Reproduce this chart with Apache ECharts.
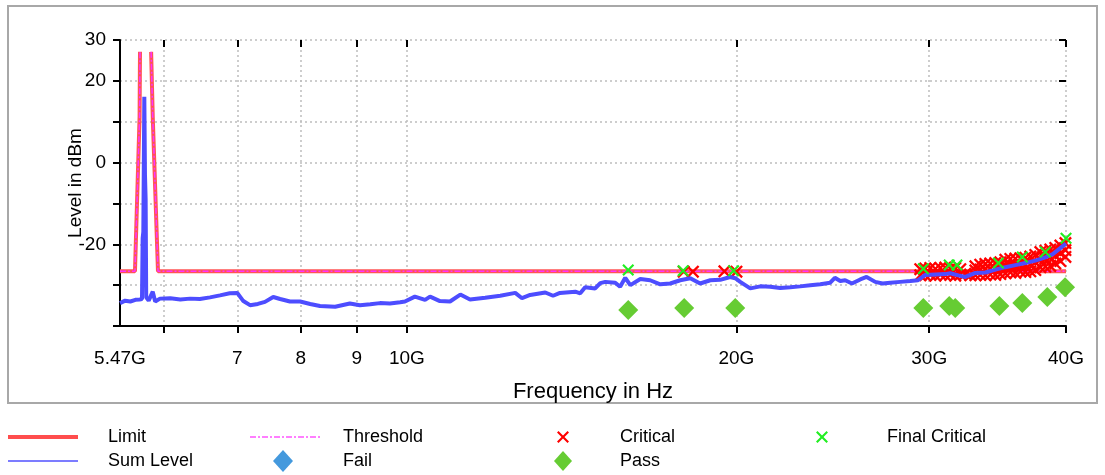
<!DOCTYPE html>
<html>
<head>
<meta charset="utf-8">
<title>Level vs Frequency</title>
<script src="https://cdn.jsdelivr.net/npm/echarts@6.0.0/dist/echarts.min.js"></script>
<style>
  html, body { margin: 0; padding: 0; background: #fff; }
  #chart { width: 1105px; height: 475px; }
</style>
</head>
<body>
<div id="chart"></div>
<script>
// frequencies in GHz, levels in dBm
var limitFreq = [5.47, 5.645, 5.70, 5.705, 5.77, 5.84, 5.86, 5.925, 40];
var limitLevel = [-26.6, -26.6, 11.2, 27.1, '-', 27.1, 11.2, -26.6, -26.6];
var thresholdLevel = [-26.6, -26.6, 11.2, 27.1, '-', 27.1, 11.2, -26.6, -26.6];

var sumFreq = [
  5.47, 5.53, 5.59, 5.65, 5.70, 5.729, 5.737, 5.745, 5.757, 5.765, 5.773, 5.78,
  5.81, 5.86, 5.89, 5.95, 6.08, 6.21, 6.34, 6.47, 6.61, 6.75, 6.89, 7.0,
  7.09, 7.19, 7.31, 7.42, 7.55, 7.66, 7.82, 7.99, 8.16, 8.33, 8.60, 8.87,
  9.06, 9.26, 9.45, 9.65, 9.86, 9.96, 10.17, 10.39, 10.5, 10.72, 10.95, 11.19,
  11.42, 11.79, 12.17, 12.56, 12.74, 12.96, 13.38, 13.6, 13.8, 14.25, 14.4, 14.55,
  14.86, 15.02, 15.18, 15.5, 15.66, 15.83, 16.0, 16.34, 16.68, 17.04, 17.4, 17.77,
  18.15, 18.53, 18.93, 19.33, 19.74, 19.95, 20.16, 20.59, 21.03, 21.47, 21.93, 22.4,
  22.87, 23.36, 23.86, 24.36, 24.6, 24.88, 25.14, 25.5, 25.95, 26.3, 26.78, 27.2,
  27.64, 28.23, 28.83, 29.3, 29.75, 30.39, 31.03, 31.36, 31.9, 32.37, 33.06, 33.76,
  34.48, 35.21, 35.96, 36.72, 37.5, 38.3, 38.9, 39.5, 40.0
];
var sumLevel = [
  -34.4, -33.8, -34.0, -33.6, -33.5, -33.4, -18.5, -17.0, 16.1, -3.0, -9.0, -33.0,
  -33.8, -31.6, -34.0, -33.3, -33.2, -33.5, -33.3, -33.4, -33.0, -32.5, -32.0, -31.9,
  -33.9, -34.9, -34.6, -34.1, -32.9, -33.4, -34.0, -34.0, -34.6, -35.1, -35.3, -34.5,
  -34.9, -34.7, -34.4, -34.5, -34.2, -34.0, -32.8, -33.6, -32.8, -33.9, -34.0, -32.3,
  -33.5, -33.1, -32.6, -31.9, -33.2, -32.4, -31.8, -32.6, -31.9, -31.6, -32.0, -30.5,
  -30.8, -29.5, -29.2, -29.4, -30.4, -28.2, -30.0, -28.5, -28.8, -29.8, -29.6, -28.8,
  -28.3, -29.6, -28.8, -28.7, -28.0, -28.3, -29.2, -30.8, -30.3, -30.4, -30.7, -30.5,
  -30.3, -30.0, -29.8, -29.4, -28.2, -29.0, -28.8, -29.6, -28.6, -28.0, -29.2, -29.6,
  -29.4, -29.2, -29.0, -28.8, -27.5, -27.4, -27.3, -27.1, -27.6, -28.0, -27.0, -26.9,
  -26.2, -25.6, -25.1, -24.6, -24.0, -23.2, -22.4, -21.0, -19.8
];

var critFreq = [
  17.9, 18.25, 19.5, 20.0,
  29.44, 29.44, 29.75, 29.75, 30.07, 30.07, 30.39, 30.39, 30.71, 30.71, 31.03, 31.03,
  31.36, 31.36, 31.69, 31.69, 32.03, 32.03, 32.37, 32.71,
  33.06, 33.06, 33.06, 33.40, 33.40, 33.40, 33.76, 33.76, 33.76, 34.11, 34.11, 34.11,
  34.47, 34.47, 34.47, 34.84, 34.84, 34.84, 35.21, 35.21, 35.21, 35.58, 35.58, 35.58,
  35.96, 35.96, 35.96, 36.34, 36.34, 36.34, 36.72, 36.72, 36.72, 37.11, 37.11, 37.11,
  37.50, 37.50, 37.50, 37.90, 37.90, 37.90, 38.30, 38.30, 38.30, 38.70, 38.70, 38.70,
  39.11, 39.11, 39.11, 39.53, 39.53, 39.53, 39.95, 39.95, 39.95
];
var critLevel = [
  -26.7, -26.7, -26.6, -26.7,
  -26.1, -27.6, -25.9, -27.6, -25.8, -27.5, -26.0, -27.7, -25.8, -27.4, -25.7, -27.6,
  -25.9, -27.5, -25.8, -27.7, -26.1, -27.4, -27.2, -27.6,
  -25.4, -26.4, -27.6, -25.0, -26.2, -27.5, -24.8, -26.1, -27.6, -24.7, -26.0, -27.4,
  -24.6, -26.0, -27.5, -24.4, -25.8, -27.3, -23.8, -25.4, -27.1, -23.6, -25.2, -26.9,
  -23.5, -25.2, -27.0, -23.4, -25.0, -26.7, -23.3, -25.0, -26.8, -23.0, -24.8, -26.6,
  -22.6, -24.4, -26.3, -21.9, -23.7, -25.6, -21.6, -23.5, -25.5, -21.3, -23.2, -25.3,
  -20.9, -22.8, -24.7, -20.3, -22.2, -24.1, -19.7, -21.4, -23.1
];

var finalFreq = [15.93, 17.88, 19.88, 29.63, 31.29, 31.8, 34.7, 36.49, 38.3, 40.0];
var finalLevel = [-26.3, -26.5, -26.5, -26.0, -25.1, -25.1, -24.6, -23.1, -21.9, -18.5];

var passFreq = [15.93, 17.92, 19.95, 29.63, 31.29, 31.69, 34.77, 36.49, 38.46, 39.92];
var passLevel = [-36.1, -35.6, -35.6, -35.6, -35.1, -35.6, -35.1, -34.4, -32.9, -30.5];

var failFreq = [];
var failLevel = [];

var xTicks = [6, 7, 8, 9, 10, 20, 30, 40];
var xLabels = [5.47, 7, 8, 9, 10, 20, 30, 40];
var yLabels = [-20, 0, 20, 30];

function pairs(xs, ys) {
  return xs.map(function (x, i) { return [x, ys[i]]; });
}

var crossPath = 'path://M0,1.5L1.5,0L6,4.5L10.5,0L12,1.5L7.5,6L12,10.5L10.5,12L6,7.5L1.5,12L0,10.5L4.5,6Z';
var font = 'Liberation Sans, Arial, sans-serif';

// legend line icons
var limitIcon = 'path://M0,0H70V4H0Z';
var sumIcon = 'path://M0,0H70V1.5H0Z';
var dashIcon = 'path://';
for (var p = 0; p < 70; p += 12) {
  dashIcon += 'M' + p + ',0H' + Math.min(p + 6, 70) + 'V1.5H' + p + 'Z';
  if (p + 8 < 70) dashIcon += 'M' + (p + 8) + ',0H' + (p + 10) + 'V1.5H' + (p + 8) + 'Z';
}

var chart = echarts.init(document.getElementById('chart'));

function legendItem(name, icon, w, h, left, top, pad) {
  return {
    data: [{ name: name, icon: icon }],
    left: left,
    top: top,
    padding: 0,
    itemWidth: w,
    itemHeight: h,
    selectedMode: false,
    textStyle: { fontFamily: font, fontSize: 18, color: '#000', padding: [0, 0, 0, pad] }
  };
}

var xBase = {
  type: 'log',
  min: 5.47,
  max: 40,
  axisLine: { show: true, onZero: false, lineStyle: { color: '#000', width: 2 } },
  axisTick: { show: true, length: 7, lineStyle: { color: '#000', width: 2 }, customValues: xTicks },
  axisLabel: {
    fontFamily: font, fontSize: 19, color: '#000', margin: 23,
    customValues: xLabels,
    formatter: function (v) {
      if (v === 5.47) return '5.47G';
      if (v >= 10) return v + 'G';
      return String(v);
    }
  },
  splitLine: { show: true, lineStyle: { color: '#bdbdbd', type: [2, 3], width: 1.5 } }
};

var option = {
  animation: false,
  backgroundColor: '#fff',
  graphic: [{
    type: 'rect',
    shape: { x: 8, y: 6, width: 1089, height: 397 },
    style: { fill: 'none', stroke: '#a8a8a8', lineWidth: 2 },
    silent: true
  }],
  grid: { left: 120, right: 39, top: 40, bottom: 149 },
  xAxis: [
    Object.assign({}, xBase, {
      name: 'Frequency in Hz',
      nameLocation: 'middle',
      nameGap: 55,
      nameMoveOverlap: false,
      nameTextStyle: { fontFamily: font, fontSize: 22, color: '#000' }
    }),
    Object.assign({}, xBase, {
      axisLine: { show: false, onZero: false },
      axisTick: { show: true, inside: true, length: 7, lineStyle: { color: '#000', width: 2 }, customValues: xTicks },
      axisLabel: { show: false },
      splitLine: { show: false }
    })
  ],
  yAxis: [
    {
      type: 'value',
      min: -40,
      max: 30,
      interval: 10,
      name: 'Level in dBm',
      nameLocation: 'middle',
      nameGap: 35,
      nameMoveOverlap: false,
      nameTextStyle: { fontFamily: font, fontSize: 19, color: '#000' },
      axisLine: { show: true, onZero: false, lineStyle: { color: '#000', width: 2 } },
      axisTick: { show: true, length: 7, lineStyle: { color: '#000', width: 2 } },
      axisLabel: { fontFamily: font, fontSize: 19, color: '#000', margin: 14, customValues: yLabels },
      splitLine: { show: true, lineStyle: { color: '#bdbdbd', type: [2, 3], width: 1.5 } }
    },
    {
      type: 'value',
      min: -40,
      max: 30,
      interval: 10,
      axisLine: { show: false, onZero: false },
      axisTick: { show: true, inside: true, length: 7, lineStyle: { color: '#000', width: 2 } },
      axisLabel: { show: false },
      splitLine: { show: false }
    }
  ],
  legend: [
    legendItem('Limit', limitIcon, 70, 4, 8, 428, 25),
    legendItem('Sum Level', sumIcon, 70, 1.5, 8, 452, 25),
    legendItem('Threshold', dashIcon, 70, 1.5, 250, 428, 18),
    legendItem('Fail', 'diamond', 20, 22, 273, 450, 45),
    legendItem('Critical', crossPath, 12, 12, 557, 428, 46),
    legendItem('Pass', 'diamond', 18, 20, 554, 451, 43),
    legendItem('Final Critical', crossPath, 12, 12, 816, 428, 54)
  ],
  series: [
    {
      name: 'Limit', type: 'line', symbol: 'none', z: 2,
      data: pairs(limitFreq, limitLevel),
      lineStyle: { color: '#ff5555', width: 4 },
      itemStyle: { color: '#ff4d4d' }
    },
    {
      name: 'Threshold', type: 'line', symbol: 'none', z: 3,
      data: pairs(limitFreq, thresholdLevel),
      lineStyle: { color: '#ff33ff', width: 1.5, type: [6, 2, 2, 2] },
      itemStyle: { color: '#ff55ff' }
    },
    {
      name: 'Critical', type: 'scatter', symbol: crossPath, symbolSize: 13, z: 4,
      data: pairs(critFreq, critLevel),
      itemStyle: { color: '#ff0000', opacity: 1 }
    },
    {
      name: 'Sum Level', type: 'line', symbol: 'none', z: 5,
      data: pairs(sumFreq, sumLevel),
      lineStyle: { color: '#4d4dff', width: 4 },
      itemStyle: { color: '#5050ff' }
    },
    {
      name: 'Final Critical', type: 'scatter', symbol: crossPath, symbolSize: 12, z: 6,
      data: pairs(finalFreq, finalLevel),
      itemStyle: { color: '#22ee22', opacity: 1 }
    },
    {
      name: 'Pass', type: 'scatter', symbol: 'diamond', symbolSize: 20, z: 6,
      data: pairs(passFreq, passLevel),
      itemStyle: { color: '#66cc33', opacity: 1 }
    },
    {
      name: 'Fail', type: 'scatter', symbol: 'diamond', symbolSize: 15, z: 6,
      data: pairs(failFreq, failLevel),
      itemStyle: { color: '#4499dd', opacity: 1 }
    }
  ]
};

chart.setOption(option);
</script>
</body>
</html>
